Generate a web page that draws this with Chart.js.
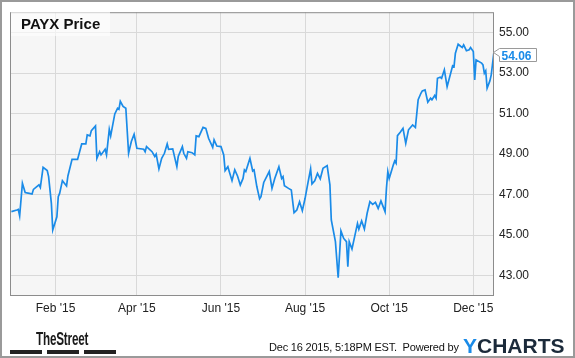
<!DOCTYPE html>
<html>
<head>
<meta charset="utf-8">
<script src="https://cdn.jsdelivr.net/npm/chart.js@4.4.1/dist/chart.umd.min.js"></script>
<style>
  html, body { margin:0; padding:0; background:#fff; }
  #wrap { position:relative; width:575px; height:358px; overflow:hidden; font-family:"Liberation Sans", Arial, sans-serif; }
  #c { position:absolute; left:0; top:0; }
  #frame { position:absolute; left:0; top:0; width:575px; height:358px; box-sizing:border-box; border:2px solid #9a9a9a; pointer-events:none; }
  #title { position:absolute; left:11px; top:11px; width:99px; height:25px; line-height:25px; background:rgba(255,255,255,0.6);
           font-weight:bold; font-size:15px; color:#111; padding-left:10px; box-sizing:border-box; white-space:nowrap; }
  .abs { position:absolute; white-space:nowrap; }
  #street { left:36px; top:330px; font-size:18px; line-height:18px; font-weight:bold; color:#1a1a1a; transform:scaleX(0.65); transform-origin:0 0; letter-spacing:-0.3px; }
  .bar { position:absolute; top:350px; height:4px; background:#222; }
  #stamp { left:269px; top:342px; font-size:11px; line-height:11px; color:#111; letter-spacing:-0.2px; }
  #ych { left:463px; top:335px; font-size:21px; line-height:21px; font-weight:bold; color:#1b2a3a; }
  #ych span { color:#1a8be8; }
</style>
</head>
<body>
<div id="wrap">
  <canvas id="c" width="575" height="358"></canvas>
  <div id="title">PAYX Price</div>
  <div id="street" class="abs">TheStreet</div>
  <div class="bar" style="left:10px;width:32px"></div>
  <div class="bar" style="left:47px;width:32px"></div>
  <div class="bar" style="left:84px;width:32px"></div>
  <div id="stamp" class="abs">Dec 16 2015, 5:18PM EST.&nbsp; Powered by</div>
  <div id="ych" class="abs"><span>Y</span>CHARTS</div>
  <div id="frame"></div>
</div>
<script>
// Day offsets from Jan 1, 2015 (0 = Jan 1)
const days = [-1,3,4,5,7,9,12,14,15,19,20,22,25,26,28,29,32,33,34,36,39,40,43,47,50,53,54,56,57,60,61,63,64,67,68,70,71,74,76,77,78,80,82,84,86,88,90,95,96,97,101,103,104,106,108,110,112,113,116,119,120,123,124,126,127,130,132,133,135,138,140,142,145,146,148,151,153,154,156,157,159,161,163,165,167,168,169,172,174,175,177,179,180,182,186,188,190,193,195,196,197,200,202,204,206,208,210,212,214,216,217,219,221,223,225,228,230,231,234,236,238,240,242,243,244,246,250,251,253,255,257,259,261,263,265,267,270,271,272,273,276,277,278,279,281,283,285,287,290,292,294,296,297,299,301,303,304,306,307,308,310,311,313,315,319,320,321,323,325,326,327,329,331,332,334,335,336,340,341,342,343,344,346,347,349];
const prices = [46.16,46.24,46.27,45.95,47.56,47.10,47.06,47.03,47.26,47.48,47.35,48.35,48.19,47.89,46.57,45.26,45.91,46.90,47.06,47.69,47.43,47.92,48.74,48.74,49.50,49.50,49.95,49.90,50.16,50.39,48.79,49.12,48.96,49.24,48.96,50.22,49.90,50.98,51.26,51.21,51.60,51.35,51.26,49.04,49.62,49.98,49.29,49.24,49.12,49.37,49.12,48.88,49.00,48.27,48.79,49.04,49.50,49.24,49.26,48.38,48.88,49.37,49.04,48.79,49.12,49.07,48.96,49.90,49.86,50.32,50.27,49.78,49.33,49.70,49.40,49.37,48.96,48.19,48.38,48.14,47.69,48.22,47.92,47.48,47.80,48.22,48.14,48.79,48.17,48.22,47.40,46.79,46.90,47.60,48.14,47.31,47.80,48.38,47.80,47.89,47.44,47.31,47.23,46.11,46.24,46.65,46.21,46.82,47.56,48.27,47.53,47.68,48.05,47.78,48.30,48.43,47.48,45.75,44.68,42.90,45.21,44.84,44.68,43.44,44.68,44.32,45.58,45.30,45.70,45.30,46.08,46.65,46.52,46.62,46.32,46.69,46.16,47.31,48.14,47.80,48.47,48.66,48.55,49.91,50.08,50.27,49.53,50.20,50.44,50.31,51.68,52.00,52.12,52.17,51.56,51.76,51.68,51.89,51.76,52.74,52.79,52.74,53.16,52.33,53.36,53.32,53.98,54.42,54.31,54.26,54.39,54.10,54.15,54.26,54.06,52.66,53.65,53.49,53.40,52.99,53.11,52.25,52.61,52.91,54.06];
const xTickDays = [31, 90, 151, 212, 273, 334];
const xTickLabels = ["Feb '15", "Apr '15", "Jun '15", "Aug '15", "Oct '15", "Dec '15"];
const yTickValues = [43, 45, 47, 49, 51, 53, 55];
const lastPrice = 54.06;

const FONT = "'Liberation Sans', Arial, sans-serif";

const decor = {
  id: 'decor',
  beforeDraw(chart) {
    const a = chart.chartArea, ctx = chart.ctx;
    ctx.save();
    ctx.fillStyle = '#f6f6f6';
    ctx.fillRect(a.left, a.top, a.right - a.left, a.bottom - a.top);
    ctx.restore();
  },
  afterDraw(chart) {
    const a = chart.chartArea, ctx = chart.ctx;
    ctx.save();
    ctx.strokeStyle = '#8c8c8c';
    ctx.lineWidth = 1;
    ctx.strokeRect(a.left + 0.5, a.top + 0.5, a.right - a.left - 1, a.bottom - a.top - 1);
    // last value tag
    const y = Math.round(chart.scales.y.getPixelForValue(lastPrice)) + 0.5;
    const L = a.right + 5.5, R = 536.5, T = y - 4, B = y + 9;
    ctx.beginPath();
    ctx.moveTo(a.right - 0.5, y);
    ctx.lineTo(L, T);
    ctx.lineTo(R, T);
    ctx.lineTo(R, B);
    ctx.lineTo(L, B);
    ctx.lineTo(L, y + 4);
    ctx.closePath();
    ctx.fillStyle = '#ffffff';
    ctx.fill();
    ctx.strokeStyle = '#9a9a9a';
    ctx.stroke();
    ctx.fillStyle = '#1a8be8';
    ctx.font = 'bold 12px ' + FONT;
    ctx.textBaseline = 'alphabetic';
    ctx.textAlign = 'left';
    ctx.fillText(lastPrice.toFixed(2), L + 2, y + 7);
    ctx.restore();
  }
};

new Chart(document.getElementById('c'), {
  type: 'line',
  data: {
    datasets: [{
      data: days.map((d, i) => ({ x: d, y: prices[i] })),
      borderColor: '#1a8be8',
      borderWidth: 1.7,
      pointRadius: 0,
      tension: 0,
      fill: false
    }]
  },
  options: {
    responsive: false,
    animation: false,
    devicePixelRatio: 1,
    layout: { padding: { left: 10, top: 10, right: 0, bottom: 0 } },
    plugins: { legend: { display: false }, tooltip: { enabled: false }, title: { display: false } },
    scales: {
      x: {
        type: 'linear', position: 'bottom', min: -2, max: 349, bounds: 'data',
        afterBuildTicks: s => { s.ticks = xTickDays.map(v => ({ value: v })); },
        afterFit: s => { s.height = 62; },
        grid: { color: '#d9d9d9', lineWidth: 1, drawTicks: false },
        border: { display: false },
        ticks: {
          padding: 5, color: '#222', autoSkip: false, maxRotation: 0,
          font: { family: FONT, size: 12 },
          callback: v => xTickLabels[xTickDays.indexOf(v)]
        }
      },
      y: {
        type: 'linear', position: 'right', min: 42, max: 56, bounds: 'data',
        afterBuildTicks: s => { s.ticks = yTickValues.map(v => ({ value: v })); },
        afterFit: s => { s.width = 81; },
        grid: { color: '#d9d9d9', lineWidth: 1, drawTicks: false },
        border: { display: false },
        ticks: {
          padding: 5, color: '#222',
          font: { family: FONT, size: 12 },
          callback: v => Number(v).toFixed(2)
        }
      }
    }
  },
  plugins: [decor]
});
</script>
</body>
</html>
